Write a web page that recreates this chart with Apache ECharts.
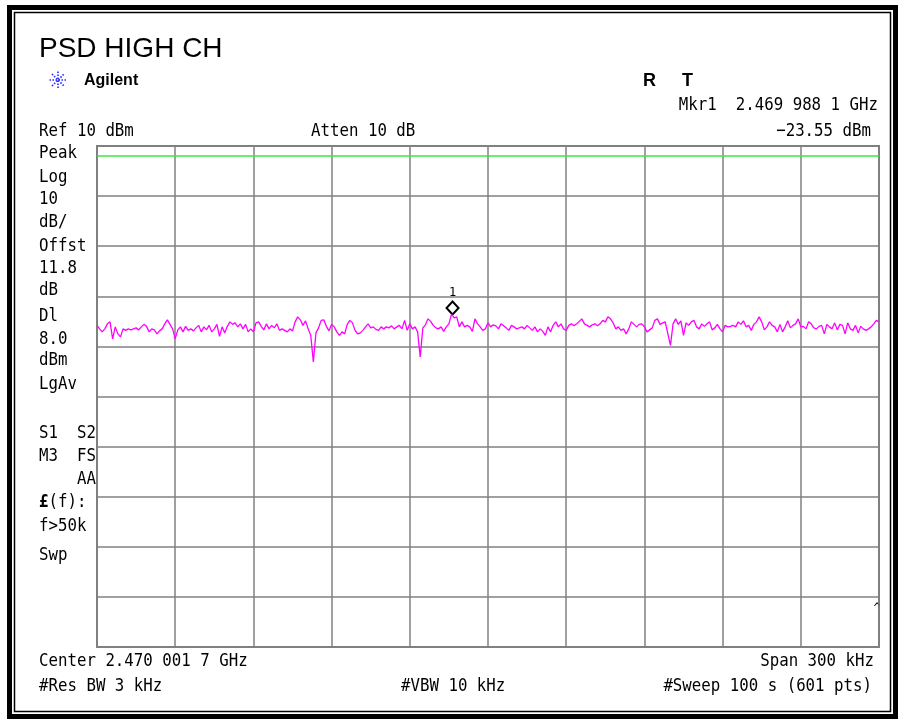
<!DOCTYPE html>
<html>
<head>
<meta charset="utf-8">
<script src="https://cdn.jsdelivr.net/npm/echarts@6/dist/echarts.min.js"></script>
<style>
html,body{margin:0;padding:0;background:#fff;}
#chart{width:899px;height:719px;}
</style>
</head>
<body>
<div id="chart"></div>
<script>
// ---- Instrument settings ----
const title = 'PSD HIGH CH';
const refLevel = 10;          // dBm (top of screen)
const dbPerDiv = 10;
const divisions = 10;
const spanKHz = 300;
const displayLine = 8.0;      // dBm
const markerOffsetKHz = 136.4; // 2.4699881 GHz relative to start 2.4698517 GHz
const markerLevel = -23.55;

// ---- Trace (dBm), 301 readings across the 300 kHz span ----
const trace = [
-25.8,-26.5,-27.1,-26.5,-25.5,-25.1,-28.5,-26.1,-27.5,-28.1,
-26.5,-26.8,-26.5,-26.7,-26.5,-26.3,-26.7,-26.1,-25.6,-26.0,
-27.1,-26.5,-26.7,-27.5,-26.9,-26.5,-25.5,-24.7,-25.6,-26.5,
-28.5,-26.7,-26.1,-27.1,-26.0,-26.8,-26.5,-26.9,-26.3,-25.8,
-27.1,-26.1,-26.7,-25.8,-27.1,-26.5,-25.6,-28.0,-26.1,-27.3,
-26.0,-25.1,-25.6,-25.3,-26.1,-25.5,-26.5,-25.6,-27.1,-26.5,
-27.1,-25.3,-25.1,-26.0,-26.7,-25.5,-26.5,-25.8,-26.3,-25.5,
-26.8,-26.5,-26.8,-27.1,-26.5,-26.9,-25.1,-24.1,-24.7,-25.8,
-24.9,-26.5,-27.8,-33.1,-27.3,-26.3,-24.8,-24.7,-26.0,-26.9,
-25.6,-26.1,-27.1,-27.8,-27.1,-27.5,-25.6,-24.8,-25.3,-26.8,
-27.5,
-27.3,-26.8,-26.1,-25.5,-26.3,-26.1,-26.6,-26.8,-26.1,-26.5,
-26.1,-26.3,-25.9,-26.5,-26.1,-25.8,-26.5,-24.8,-26.8,-25.5,
-26.5,-26.1,-27.1,-32.1,-26.3,-25.7,-24.5,-25.0,-25.8,-26.3,
-26.5,-26.1,-27.0,-26.1,-25.5,-23.55,-24.3,-24.1,-26.1,-25.1,
-26.1,-25.8,-26.1,-27.0,-24.5,-25.5,-26.1,-26.8,-26.5,-25.3,
-26.1,-25.7,-25.9,-26.5,-25.5,-25.9,-26.3,-26.8,-25.8,-26.1,
-26.5,-26.3,-26.1,-26.5,-25.8,-26.3,-26.8,-26.1,-27.1,-26.5,
-27.0,-27.8,-26.1,-27.1,-25.8,-25.1,-26.1,-25.5,-26.5,-26.8,
-25.8,-25.5,-25.9,-25.5,-25.0,-24.5,-25.5,-25.8,-26.1,-25.7,
-25.5,-25.9,-25.5,-24.8,-25.1,-24.1,-24.5,-25.3,-26.5,-26.1,
-26.8,-26.5,-27.5,-26.5,-25.1,-25.6,-26.1,-25.6,-25.5,-26.1,
-27.1,-26.7,-26.3,-24.8,-24.5,-25.6,-25.3,-25.1,-27.5,-29.8,
-25.5,-24.5,-25.6,-24.9,-27.8,-25.3,-25.8,-25.1,-24.8,-26.1,
-26.5,-25.5,-26.0,-25.5,-25.1,-26.7,-26.3,-25.6,-26.5,-27.1,
-25.8,-26.1,-26.0,-25.8,-26.1,-25.1,-25.6,-24.9,-26.1,-25.8,
-26.8,-25.6,-25.1,-24.1,-25.1,-26.7,-26.1,-25.1,-25.8,-26.1,
-27.1,-25.6,-27.1,-26.1,-24.9,-26.3,-25.8,-25.5,-24.5,-26.1,
-26.0,-26.5,-25.1,-25.5,-26.3,-26.5,-26.0,-25.8,-27.5,-25.6,
-26.1,-26.5,-25.3,-26.7,-25.6,-25.8,-27.5,-25.3,-26.5,-26.8,
-25.8,-27.3,-26.0,-26.5,-26.8,-26.5,-26.1,-25.5,-24.8,-25.1
];

// ---- Screen annotation texts ----
const leftLabels = ['Peak','Log','10','dB/','Offst','11.8','dB','Dl','8.0','dBm','LgAv','S1  S2','M3  FS','    AA','{b|£}(f):','f>50k','Swp'];
const leftLabelY = [153,177,199,222,246,268,290,316,339,360,384,433,456,479,502,526,555];
const headerTexts = {
  ref: 'Ref 10 dBm',
  atten: 'Atten 10 dB',
  mkrFreq: 'Mkr1  2.469 988 1 GHz',
  mkrLevel: '\u221223.55 dBm',
  center: 'Center 2.470 001 7 GHz',
  span: 'Span 300 kHz',
  rbw: '#Res BW 3 kHz',
  vbw: '#VBW 10 kHz',
  sweep: '#Sweep 100 s (601 pts)'
};

const seriesData = trace.map((v, i) => [i * spanKHz / (trace.length - 1), v]);

const MONO = '"DejaVu Sans Mono", monospace';
function mono(text, x, y, align, extra) {
  return Object.assign({
    type: 'text', x: x, y: y, scaleX: 0.875, scaleY: 1,
    style: { text: text, x: 0, y: 0, fill: '#000', align: align || 'left', verticalAlign: 'middle',
      fontFamily: MONO, fontSize: 18,
      rich: { b: { fontFamily: MONO, fontSize: 18, fontWeight: 'bold', fill: '#000' } } },
    silent: true
  }, extra || {});
}

const graphics = [
  { type: 'rect', shape: { x: 9.5, y: 7.5, width: 886, height: 709 }, style: { fill: 'none', stroke: '#000', lineWidth: 5 }, silent: true },
  { type: 'rect', shape: { x: 14.5, y: 12.5, width: 876, height: 699 }, style: { fill: 'none', stroke: '#000', lineWidth: 1.5 }, silent: true },
  { type: 'text', x: 39, y: 49, style: { text: title, fontFamily: '"Liberation Sans", Arial, sans-serif', fontSize: 28, fill: '#000', verticalAlign: 'middle' }, silent: true },
  { type: 'text', x: 84, y: 81, style: { text: 'Agilent', fontFamily: '"Liberation Sans", Arial, sans-serif', fontSize: 16, fontWeight: 'bold', fill: '#000', verticalAlign: 'middle' }, silent: true },
  { type: 'text', x: 643, y: 81, style: { text: 'R', fontFamily: '"Liberation Sans", Arial, sans-serif', fontSize: 18, fontWeight: 'bold', fill: '#000', verticalAlign: 'middle' }, silent: true },
  { type: 'text', x: 682, y: 81, style: { text: 'T', fontFamily: '"Liberation Sans", Arial, sans-serif', fontSize: 18, fontWeight: 'bold', fill: '#000', verticalAlign: 'middle' }, silent: true },
  mono(headerTexts.ref, 39, 131),
  mono(headerTexts.atten, 311, 131),
  mono(headerTexts.mkrFreq, 878, 105, 'right'),
  mono(headerTexts.mkrLevel, 871, 131, 'right'),
  mono(headerTexts.center, 39, 661),
  mono(headerTexts.span, 874, 661, 'right'),
  mono(headerTexts.rbw, 39, 686),
  mono(headerTexts.vbw, 401, 686),
  mono(headerTexts.sweep, 872, 686, 'right'),
  { type: 'text', x: 877, y: 609, style: { text: '^', fontFamily: MONO, fontSize: 12, fill: '#000', align: 'center', verticalAlign: 'middle' }, silent: true }
];
leftLabels.forEach((t, i) => graphics.push(mono(t, 39, leftLabelY[i])));

// Agilent spark logo (dotted)
const cx = 58, cy = 80, r = 8.5;
[[1,0],[0,1],[0.707,0.707],[0.707,-0.707]].forEach(d => {
  graphics.push({ type: 'line', shape: { x1: cx - d[0]*r, y1: cy - d[1]*r, x2: cx + d[0]*r, y2: cy + d[1]*r },
    style: { stroke: '#2f2fff', lineWidth: 1.7, lineDash: [1.5, 1.5] }, silent: true });
});

const chart = echarts.init(document.getElementById('chart'), null, { renderer: 'canvas' });
chart.setOption({
  animation: false,
  backgroundColor: '#fff',
  grid: { left: 97, top: 146, width: 782, height: 501, show: true, borderColor: '#808080', borderWidth: 2, backgroundColor: 'transparent' },
  xAxis: {
    type: 'value', min: 0, max: spanKHz, interval: spanKHz / divisions,
    axisLine: { show: false }, axisTick: { show: false }, axisLabel: { show: false },
    splitLine: { show: true, lineStyle: { color: '#808080', width: 1.5 } }
  },
  yAxis: {
    type: 'value', min: refLevel - dbPerDiv * divisions, max: refLevel, interval: dbPerDiv,
    axisLine: { show: false }, axisTick: { show: false }, axisLabel: { show: false },
    splitLine: { show: true, lineStyle: { color: '#808080', width: 1.5 } }
  },
  series: [{
    type: 'line',
    data: seriesData,
    showSymbol: false,
    lineStyle: { color: '#ff00ff', width: 1.3 },
    z: 5,
    markLine: {
      silent: true, symbol: 'none',
      lineStyle: { color: '#3ce63c', width: 1.5, type: 'solid' },
      label: { show: false },
      data: [{ yAxis: displayLine }]
    },
    markPoint: {
      silent: true,
      data: [{
        coord: [markerOffsetKHz, markerLevel],
        symbol: 'diamond', symbolSize: [12, 13], symbolOffset: [0, -6],
        itemStyle: { color: '#fff', borderColor: '#000', borderWidth: 2 },
        label: { show: true, position: 'top', distance: 2, formatter: '1', color: '#000', fontFamily: MONO, fontSize: 12 }
      }]
    }
  }],
  graphic: { elements: graphics }
});
</script>
</body>
</html>
